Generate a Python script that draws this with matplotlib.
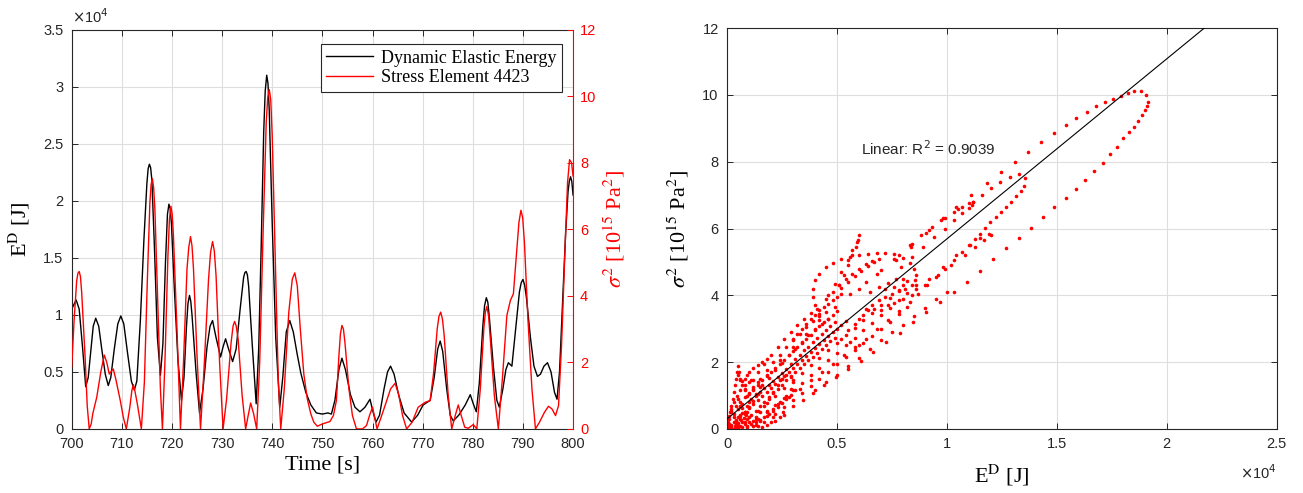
import numpy as np
import matplotlib.pyplot as plt
from matplotlib.lines import Line2D

# ---- time histories, 700-800 s ----
# dynamic elastic energy E^D: (time [s], E^D [1e4 J])
energy_points = [
    (700.0, 1.05), (700.9, 1.13), (701.5, 1.05), (702.2, 0.70), (702.8, 0.37),
    (703.3, 0.45), (703.8, 0.68), (704.3, 0.90), (704.8, 0.97), (705.4, 0.90),
    (706.0, 0.70), (706.7, 0.48), (707.3, 0.38), (707.8, 0.45), (708.5, 0.70),
    (709.2, 0.92), (709.8, 0.99), (710.4, 0.92), (711.1, 0.68), (711.9, 0.42),
    (712.5, 0.34), (713.0, 0.42), (713.7, 0.95), (714.4, 1.65), (715.0, 2.15),
    (715.25, 2.28), (715.5, 2.32), (715.75, 2.29), (716.0, 2.18), (716.5, 1.60),
    (717.1, 0.80), (717.7, 0.47), (718.2, 0.75), (718.7, 1.45), (719.1, 1.88),
    (719.4, 1.97), (719.65, 1.93), (719.9, 1.80), (720.4, 1.30), (721.2, 0.60),
    (721.9, 0.25), (722.4, 0.45), (722.9, 0.90), (723.2, 1.10), (723.5, 1.17),
    (723.75, 1.12), (724.0, 1.00), (724.8, 0.50), (725.5, 0.14), (726.2, 0.35),
    (727.0, 0.72), (727.6, 0.90), (728.1, 0.95), (728.8, 0.80), (729.7, 0.63),
    (730.2, 0.72), (730.7, 0.79), (731.3, 0.70), (732.1, 0.59), (732.8, 0.70),
    (733.6, 1.05), (734.3, 1.33), (734.55, 1.37), (734.8, 1.38), (735.05, 1.35),
    (735.3, 1.25), (736.0, 0.75), (736.8, 0.22), (737.3, 0.70), (737.8, 1.60),
    (738.3, 2.60), (738.6, 2.96), (738.9, 3.10), (739.15, 3.03), (739.4, 2.80),
    (740.0, 1.80), (740.7, 0.80), (741.5, 0.19), (742.1, 0.45), (742.8, 0.85),
    (743.5, 0.95), (744.2, 0.85), (745.0, 0.65), (745.7, 0.49), (746.7, 0.32),
    (747.7, 0.21), (748.8, 0.14), (750.0, 0.13), (751.1, 0.14), (751.8, 0.13),
    (752.5, 0.25), (753.3, 0.52), (753.9, 0.62), (754.6, 0.52), (755.6, 0.30),
    (756.5, 0.19), (757.5, 0.15), (758.5, 0.19), (759.5, 0.26), (760.1, 0.15),
    (760.7, 0.06), (761.4, 0.12), (762.3, 0.35), (763.0, 0.50), (763.6, 0.55),
    (764.3, 0.48), (765.2, 0.30), (766.3, 0.14), (767.8, 0.06), (769.0, 0.12),
    (770.1, 0.21), (771.5, 0.25), (772.3, 0.45), (773.0, 0.70), (773.5, 0.77),
    (774.0, 0.68), (774.8, 0.35), (775.5, 0.12), (776.1, 0.07), (777.2, 0.12),
    (778.5, 0.21), (779.5, 0.30), (780.1, 0.22), (780.7, 0.15), (781.3, 0.40),
    (782.0, 0.90), (782.35, 1.08), (782.7, 1.15), (783.0, 1.11), (783.3, 0.98),
    (784.1, 0.55), (784.8, 0.25), (785.3, 0.19), (786.0, 0.35), (786.6, 0.52),
    (787.1, 0.58), (787.8, 0.55), (788.5, 0.85), (789.3, 1.20), (789.65, 1.28),
    (790.0, 1.31), (790.35, 1.26), (790.7, 1.15), (791.5, 0.80), (792.2, 0.55),
    (792.9, 0.46), (793.5, 0.48), (794.2, 0.55), (794.9, 0.58), (795.6, 0.50),
    (796.3, 0.32), (796.8, 0.26), (797.3, 0.50), (797.9, 1.10), (798.5, 1.70),
    (799.0, 2.08), (799.25, 2.17), (799.5, 2.21), (799.75, 2.17), (800.0, 2.05),
]

# squared stress of element 4423: (time [s], sigma^2 [1e15 Pa^2])
stress_points = [
    (700.0, 1.85), (700.5, 3.30), (701.0, 4.45), (701.25, 4.68), (701.5, 4.73),
    (701.75, 4.58), (702.0, 4.10), (702.7, 2.10), (703.1, 0.70), (703.5, 0.00),
    (703.9, 0.15), (704.2, 0.45), (705.0, 0.95), (705.8, 1.70), (706.5, 2.22),
    (707.0, 2.00), (707.5, 1.65), (708.0, 1.75), (708.3, 1.80), (708.8, 1.50),
    (709.7, 0.85), (710.3, 0.35), (710.9, 0.00), (711.6, 0.65), (712.0, 1.15),
    (712.3, 1.33), (712.6, 1.15), (713.1, 0.75), (713.9, 0.00), (714.5, 1.40),
    (715.1, 4.50), (715.6, 6.80), (715.85, 7.35), (716.1, 7.52), (716.35, 7.25),
    (716.6, 6.60), (717.2, 3.60), (717.7, 1.20), (718.1, 0.00), (718.6, 2.00),
    (719.2, 5.20), (719.5, 6.30), (719.8, 6.69), (720.05, 6.45), (720.3, 5.80),
    (721.0, 3.00), (721.7, 0.00), (722.3, 2.00), (723.0, 4.80), (723.35, 5.45),
    (723.7, 5.78), (724.0, 5.50), (724.3, 4.80), (725.0, 2.20), (725.7, 0.00),
    (726.4, 1.80), (727.3, 4.50), (727.7, 5.30), (728.1, 5.63), (728.45, 5.35),
    (728.8, 4.60), (729.5, 2.00), (730.2, 0.00), (730.9, 0.90), (731.8, 2.60),
    (732.2, 3.10), (732.5, 3.23), (732.8, 3.10), (733.2, 2.70), (734.0, 1.00),
    (734.7, 0.00), (735.2, 0.40), (735.7, 0.78), (736.3, 0.45), (736.9, 0.00),
    (737.5, 2.00), (738.2, 6.00), (738.8, 9.20), (739.1, 9.95), (739.4, 10.20),
    (739.7, 9.90), (740.0, 8.80), (740.7, 4.50), (741.2, 1.50), (741.7, 0.00),
    (742.4, 1.20), (743.3, 3.50), (744.0, 4.50), (744.5, 4.69), (745.0, 4.30),
    (745.6, 3.00), (746.3, 1.65), (747.0, 0.90), (747.7, 0.45), (748.3, 0.20),
    (749.0, 0.08), (750.0, 0.15), (751.5, 0.22), (752.2, 0.40), (752.8, 0.85),
    (753.3, 2.20), (753.6, 2.85), (753.9, 3.11), (754.2, 3.00), (754.5, 2.60),
    (755.3, 1.20), (756.0, 0.40), (756.8, 0.00), (758.0, 0.00), (758.8, 0.10),
    (759.4, 0.40), (760.0, 0.65), (760.5, 0.30), (760.9, 0.00), (761.6, 0.30),
    (762.5, 0.70), (763.6, 1.20), (764.5, 1.37), (765.2, 1.05), (766.0, 0.40),
    (766.8, 0.00), (767.9, 0.20), (769.1, 0.65), (770.5, 0.80), (771.5, 0.85),
    (772.2, 1.70), (772.9, 3.00), (773.25, 3.38), (773.6, 3.51), (773.95, 3.30),
    (774.3, 2.80), (775.1, 1.00), (775.8, 0.00), (776.5, 0.40), (777.1, 0.72),
    (777.8, 0.35), (778.4, 0.05), (779.1, 0.02), (780.1, 0.13), (780.8, 0.00),
    (781.5, 1.20), (782.2, 3.00), (782.5, 3.50), (782.8, 3.68), (783.15, 3.40),
    (783.5, 2.70), (784.3, 1.00), (785.1, 0.00), (785.9, 1.50), (786.8, 3.41),
    (787.5, 3.86), (788.1, 4.06), (788.8, 5.40), (789.2, 6.20), (789.6, 6.57),
    (789.95, 6.35), (790.3, 5.60), (791.0, 3.30), (791.8, 1.20), (792.5, 0.00),
    (793.3, 0.20), (794.3, 0.50), (795.1, 0.68), (795.8, 0.60), (796.5, 0.40),
    (797.1, 0.70), (797.7, 2.50), (798.3, 5.00), (798.9, 7.40), (799.3, 8.09),
    (799.7, 8.00), (800.0, 7.60),
]

# ---- sigma^2 against E^D, traced loop by loop: (E^D [1e4 J], sigma^2 [1e15 Pa^2]) ----
outer_loop = [
    (0.03, 0.35), (0.07, 0.75), (0.12, 1.15), (0.18, 1.60), (0.24, 2.05),
    (0.30, 2.45), (0.36, 2.85), (0.42, 3.25), (0.49, 3.65), (0.56, 4.05),
    (0.63, 4.40), (0.70, 4.75), (0.770, 5.06), (0.838, 5.46), (0.903, 5.86),
    (0.975, 6.26), (1.043, 6.64), (1.111, 7.01), (1.182, 7.36), (1.247, 7.68),
    (1.311, 8.00), (1.371, 8.30), (1.429, 8.59), (1.486, 8.85), (1.540, 9.09),
    (1.588, 9.31), (1.636, 9.50), (1.679, 9.66), (1.720, 9.80), (1.755, 9.89),
    (1.790, 9.98), (1.823, 10.07), (1.853, 10.12), (1.884, 10.12), (1.905, 10.00),
    (1.915, 9.80), (1.909, 9.67), (1.900, 9.55), (1.888, 9.40), (1.871, 9.23),
    (1.853, 9.05), (1.830, 8.88), (1.803, 8.70), (1.775, 8.45), (1.743, 8.23),
    (1.709, 7.97), (1.670, 7.72), (1.627, 7.46), (1.585, 7.19), (1.540, 6.92),
    (1.488, 6.64), (1.437, 6.34), (1.383, 6.03), (1.327, 5.72), (1.270, 5.41),
    (1.209, 5.08), (1.152, 4.74), (1.091, 4.41), (1.030, 4.11), (0.970, 3.79),
    (0.906, 3.49), (0.846, 3.19), (0.785, 2.88), (0.724, 2.60), (0.664, 2.31),
    (0.607, 2.04), (0.550, 1.79), (0.494, 1.55), (0.440, 1.30), (0.392, 1.09),
    (0.345, 0.88), (0.300, 0.68), (0.255, 0.50), (0.210, 0.35), (0.170, 0.22),
    (0.130, 0.12), (0.090, 0.05), (0.050, 0.01),
]
loop_7p5 = [
    (0.60, 4.20), (0.68, 4.65), (0.76, 5.10), (0.84, 5.55), (0.92, 5.95),
    (0.99, 6.30), (1.05, 6.58), (1.12, 6.78), (1.16, 7.00), (1.20, 7.20),
    (1.24, 7.38), (1.285, 7.55), (1.33, 7.63), (1.357, 7.50), (1.349, 7.26),
    (1.335, 7.11), (1.315, 6.96), (1.292, 6.80), (1.270, 6.64), (1.247, 6.49),
    (1.224, 6.34), (1.197, 6.18), (1.171, 6.01), (1.149, 5.84), (1.126, 5.68),
    (1.103, 5.52), (1.07, 5.30), (1.03, 5.05), (0.99, 4.80), (0.95, 4.55),
    (0.91, 4.30), (0.87, 4.05), (0.83, 3.80), (0.78, 3.52), (0.73, 3.25),
    (0.68, 2.98), (0.63, 2.70), (0.58, 2.45), (0.53, 2.20), (0.48, 1.95),
    (0.43, 1.70), (0.38, 1.45), (0.33, 1.20), (0.28, 0.97), (0.23, 0.75),
    (0.18, 0.55), (0.13, 0.37), (0.08, 0.20),
]
loop_6p8 = [
    (0.78, 5.20), (0.83, 5.50), (0.88, 5.80), (0.93, 6.05), (0.98, 6.30),
    (1.03, 6.50), (1.07, 6.65), (1.10, 6.75), (1.12, 6.80), (1.115, 6.70),
    (1.10, 6.60), (1.07, 6.45), (1.03, 6.25), (0.99, 6.00), (0.94, 5.75),
    (0.89, 5.45), (0.84, 5.15), (0.79, 4.85),
]
loop_5p8 = [
    (0.80, 3.90), (0.86, 4.20), (0.92, 4.50), (0.98, 4.85), (1.04, 5.20),
    (1.10, 5.50), (1.15, 5.72), (1.19, 5.85), (1.20, 5.80), (1.17, 5.65),
    (1.13, 5.45), (1.08, 5.20), (1.02, 4.90), (0.96, 4.60), (0.90, 4.30),
    (0.84, 4.00),
]
balloon = [
    (0.42, 3.45), (0.40, 3.70), (0.39, 3.95), (0.39, 4.20), (0.40, 4.45),
    (0.42, 4.65), (0.45, 4.85), (0.48, 4.98), (0.52, 5.08), (0.56, 5.15),
    (0.60, 5.20), (0.64, 5.25), (0.68, 5.27), (0.72, 5.28), (0.76, 5.24),
    (0.80, 5.12), (0.83, 4.98), (0.85, 4.80), (0.86, 4.60), (0.855, 4.45),
    (0.84, 4.32), (0.81, 4.20), (0.78, 4.12), (0.75, 4.05), (0.72, 3.95),
    (0.69, 3.85), (0.66, 3.72), (0.63, 3.60),
]
arrow_5p1 = [
    (0.45, 3.90), (0.48, 4.10), (0.51, 4.30), (0.54, 4.50), (0.57, 4.65),
    (0.60, 4.80), (0.63, 4.93), (0.66, 5.03), (0.69, 5.10), (0.67, 5.00),
    (0.64, 4.88), (0.61, 4.73), (0.58, 4.57), (0.55, 4.40), (0.52, 4.22),
    (0.65, 4.10), (0.69, 4.25), (0.73, 4.38), (0.77, 4.48), (0.80, 4.50),
    (0.82, 4.42), (0.80, 4.32), (0.76, 4.26), (0.72, 4.20),
]
spike_5p8 = [
    (0.46, 4.00), (0.49, 4.35), (0.52, 4.70), (0.55, 5.05), (0.57, 5.35),
    (0.59, 5.60), (0.60, 5.80), (0.595, 5.65), (0.585, 5.45), (0.57, 5.20),
    (0.55, 4.90), (0.53, 4.60), (0.51, 4.30),
]
bands_low = [
    (0.10, 0.35), (0.14, 0.55), (0.18, 0.78), (0.22, 1.00), (0.26, 1.22),
    (0.30, 1.45), (0.34, 1.68), (0.38, 1.90), (0.42, 2.12), (0.46, 2.35),
    (0.50, 2.58), (0.54, 2.80), (0.58, 3.02), (0.62, 3.25), (0.66, 3.48),
    (0.70, 3.70), (0.74, 3.92), (0.78, 4.15),
    (0.14, 0.30), (0.18, 0.50), (0.22, 0.72), (0.26, 0.93), (0.30, 1.15),
    (0.34, 1.37), (0.38, 1.60), (0.42, 1.82), (0.46, 2.05), (0.50, 2.27),
    (0.54, 2.50), (0.58, 2.72), (0.62, 2.95), (0.66, 3.17), (0.70, 3.40),
    (0.74, 3.62), (0.78, 3.85), (0.82, 4.07), (0.86, 4.30),
    (0.22, 0.45), (0.26, 0.65), (0.30, 0.86), (0.34, 1.07), (0.38, 1.28),
    (0.42, 1.50), (0.46, 1.71), (0.50, 1.93), (0.54, 2.14), (0.58, 2.36),
    (0.62, 2.57), (0.66, 2.78), (0.70, 3.00), (0.74, 3.21), (0.78, 3.43),
    (0.82, 3.64),
    (0.40, 1.15), (0.45, 1.40), (0.50, 1.62), (0.55, 1.88), (0.60, 2.12),
    (0.65, 2.38), (0.70, 2.65), (0.75, 2.90), (0.80, 3.12), (0.85, 3.38),
    (0.90, 3.62), (0.95, 3.88), (1.00, 4.10),
]
bands_high = [
    (0.02, 0.50), (0.05, 0.90), (0.08, 1.20), (0.11, 1.45), (0.14, 1.70),
    (0.17, 1.95), (0.20, 2.20), (0.23, 2.45), (0.26, 2.68), (0.29, 2.90),
    (0.32, 3.10), (0.35, 3.30), (0.38, 3.48), (0.41, 3.60),
    (0.06, 0.70), (0.09, 1.00), (0.12, 1.25), (0.15, 1.50), (0.18, 1.75),
    (0.21, 2.00), (0.24, 2.22), (0.27, 2.45), (0.30, 2.65), (0.33, 2.85),
    (0.36, 3.05), (0.39, 3.22), (0.42, 3.38), (0.45, 3.50),
    (0.10, 0.80), (0.13, 1.05), (0.16, 1.30), (0.19, 1.52), (0.22, 1.75),
    (0.25, 1.97), (0.28, 2.20), (0.31, 2.40), (0.34, 2.60), (0.37, 2.80),
    (0.40, 2.98), (0.43, 3.15), (0.46, 3.30),
    (0.30, 2.70), (0.32, 2.85), (0.34, 3.00), (0.36, 3.15), (0.38, 3.30),
    (0.40, 3.42), (0.42, 3.55), (0.44, 3.65), (0.46, 3.75), (0.48, 3.85),
    (0.50, 3.95), (0.52, 4.05),
]
# dense band hugging the fit line
core_band = [
    (0.02, 0.55), (0.04, 0.68), (0.06, 0.82), (0.08, 0.95), (0.10, 1.08),
    (0.12, 1.20), (0.14, 1.32), (0.16, 1.45), (0.18, 1.58), (0.20, 1.70),
    (0.22, 1.82), (0.24, 1.95), (0.26, 2.07), (0.28, 2.20), (0.30, 2.32),
    (0.32, 2.45), (0.34, 2.58), (0.36, 2.70), (0.38, 2.82), (0.40, 2.95),
    (0.42, 3.07), (0.44, 3.20), (0.46, 3.30), (0.48, 3.42), (0.50, 3.52),
    (0.04, 0.25), (0.06, 0.38), (0.08, 0.50), (0.10, 0.62), (0.12, 0.74),
    (0.14, 0.86), (0.16, 0.98), (0.18, 1.10), (0.20, 1.22), (0.22, 1.34),
    (0.24, 1.46), (0.26, 1.58), (0.28, 1.70), (0.30, 1.82), (0.32, 1.94),
    (0.34, 2.06), (0.36, 2.18), (0.38, 2.30), (0.40, 2.42), (0.42, 2.54),
    (0.44, 2.66), (0.46, 2.78), (0.48, 2.90), (0.50, 3.00), (0.52, 3.12),
    (0.54, 3.24),
    (0.01, 0.15), (0.03, 0.45), (0.05, 0.60), (0.07, 0.62), (0.09, 0.70),
    (0.11, 0.90), (0.13, 1.00), (0.15, 1.12), (0.17, 1.22), (0.19, 1.30),
    (0.21, 1.42), (0.23, 1.55), (0.25, 1.68), (0.27, 1.80), (0.29, 1.95),
    (0.31, 2.08), (0.33, 2.20), (0.35, 2.35), (0.37, 2.45), (0.39, 2.60),
    (0.41, 2.72), (0.43, 2.85), (0.45, 2.95), (0.47, 3.08), (0.49, 3.20),
    (0.05, 0.10), (0.07, 0.20), (0.09, 0.30), (0.11, 0.42), (0.13, 0.55),
    (0.15, 0.68), (0.17, 0.80), (0.19, 0.95), (0.21, 1.08), (0.23, 1.20),
    (0.25, 1.32), (0.27, 1.45), (0.29, 1.58), (0.31, 1.70), (0.33, 1.82),
    (0.35, 1.95), (0.37, 2.05), (0.39, 2.15), (0.41, 2.28), (0.43, 2.40),
    (0.45, 2.52), (0.47, 2.62), (0.49, 2.72),
    (0.55, 2.95), (0.58, 3.15), (0.60, 3.30), (0.62, 3.40), (0.64, 3.55),
    (0.67, 3.60), (0.70, 3.55), (0.73, 3.70), (0.76, 3.78), (0.52, 2.70),
    (0.56, 2.60), (0.60, 2.50),
]
origin_loops = [
    (0.005, 0.10), (0.010, 0.30), (0.015, 0.50), (0.020, 0.70), (0.025, 0.90),
    (0.030, 1.10), (0.035, 1.30), (0.040, 1.50), (0.045, 1.70), (0.050, 1.87),
    (0.055, 1.70), (0.060, 1.50), (0.070, 1.30), (0.080, 1.15), (0.100, 1.05),
    (0.000, 0.00), (0.005, 0.20), (0.010, 0.40), (0.020, 0.60), (0.030, 0.80),
    (0.045, 1.00), (0.060, 1.15), (0.080, 1.30), (0.100, 1.40), (0.120, 1.45),
    (0.140, 1.40), (0.150, 1.25), (0.140, 1.05), (0.120, 0.85), (0.100, 0.65),
    (0.080, 0.45), (0.060, 0.30), (0.040, 0.15), (0.020, 0.05),
    (0.120, 0.10), (0.150, 0.25), (0.180, 0.40), (0.210, 0.60), (0.240, 0.80),
    (0.270, 1.00), (0.290, 1.20), (0.300, 1.40), (0.290, 1.55), (0.270, 1.60),
    (0.250, 1.50), (0.230, 1.30), (0.210, 1.10), (0.190, 0.90), (0.170, 0.70),
    (0.150, 0.50), (0.130, 0.30),
    (0.010, 0.05), (0.020, 0.12), (0.030, 0.20), (0.040, 0.28), (0.050, 0.35),
    (0.060, 0.42), (0.070, 0.48), (0.080, 0.52), (0.090, 0.50), (0.085, 0.42),
    (0.075, 0.34), (0.065, 0.26), (0.050, 0.18), (0.035, 0.10), (0.020, 0.04),
    (0.030, 0.00), (0.050, 0.02), (0.070, 0.05), (0.090, 0.09), (0.110, 0.14),
    (0.130, 0.20), (0.150, 0.27), (0.170, 0.35), (0.190, 0.44), (0.210, 0.54),
    (0.230, 0.65), (0.250, 0.77), (0.270, 0.90), (0.290, 1.03), (0.310, 1.16),
    (0.050, 1.60), (0.060, 1.45), (0.070, 1.42), (0.080, 1.50), (0.090, 1.60),
    (0.100, 1.70), (0.120, 1.82), (0.140, 1.92), (0.160, 2.00), (0.180, 2.08),
    (0.000, 0.05), (0.010, 0.00), (0.020, 0.02), (0.040, 0.05), (0.060, 0.10),
    (0.080, 0.15), (0.100, 0.22), (0.120, 0.25), (0.140, 0.10), (0.160, 0.05),
    (0.180, 0.12), (0.200, 0.20), (0.220, 0.25), (0.240, 0.35), (0.260, 0.42),
]
scatter_sets = [outer_loop, loop_7p5, loop_6p8, loop_5p8, balloon, arrow_5p1,
                spike_5p8, bands_low, bands_high, core_band, origin_loops]

# linear fit: sigma^2 = fit_intercept + fit_slope * E^D (E^D in 1e4 J)
fit_slope = 5.39
fit_intercept = 0.30
r_squared = 0.9039

SERIF = 'Liberation Serif'
SANS = 'Liberation Sans'
AX_COLOR = '#262626'
GRID_COLOR = '#dedede'
RED = '#ff0000'


def style_axes(ax):
    ax.tick_params(direction='in', length=4, width=0.7, labelsize=10.5,
                   colors=AX_COLOR, labelcolor=AX_COLOR, pad=6)
    for lab in ax.get_xticklabels() + ax.get_yticklabels():
        lab.set_fontfamily(SANS)
    for sp in ax.spines.values():
        sp.set_color(AX_COLOR)
        sp.set_linewidth(0.8)
    ax.grid(True, color=GRID_COLOR, linewidth=0.8)
    ax.set_axisbelow(True)


fmt = plt.FuncFormatter(lambda v, _: f'{v:g}')

fig = plt.figure(figsize=(13.03, 4.93), dpi=100)

# ---- left: time histories ----
ax1 = fig.add_axes([0.055, 0.130, 0.3848, 0.810])
t_e, energy_e4 = zip(*energy_points)
ax1.plot(t_e, energy_e4, color='black', linewidth=1.0)
ax1.set_xlim(700, 800)
ax1.set_ylim(0, 3.5)
ax1.set_xticks(np.arange(700, 801, 10))
ax1.set_yticks(np.arange(0, 3.51, 0.5))
ax1.yaxis.set_major_formatter(fmt)
ax1.tick_params(top=True)
style_axes(ax1)
ax1.spines['right'].set_visible(False)
ax1.set_xlabel('Time [s]', fontfamily=SERIF, fontsize=16, labelpad=3)
ax1.set_ylabel(r'E$^{\mathrm{D}}$ [J]', fontfamily=SERIF, fontsize=16,
               math_fontfamily='stix', labelpad=8)
ax1.text(0.0, 1.008, r'$\times$10$^4$', transform=ax1.transAxes,
         fontfamily=SANS, fontsize=10.5, color=AX_COLOR,
         math_fontfamily='dejavusans', ha='left', va='bottom')

ax1r = ax1.twinx()
t_s, stress_sq = zip(*stress_points)
ax1r.plot(t_s, stress_sq, color=RED, linewidth=1.0)
ax1r.set_ylim(0, 12)
ax1r.set_yticks(np.arange(0, 12.1, 2))
ax1r.tick_params(direction='in', length=4, width=0.7, labelsize=10.5,
                 colors=RED, pad=5)
for lab in ax1r.get_yticklabels():
    lab.set_fontfamily(SANS)
for name, sp in ax1r.spines.items():
    sp.set_visible(name == 'right')
ax1r.spines['right'].set_color(RED)
ax1r.spines['right'].set_linewidth(0.8)
ax1r.set_ylabel(r'$\sigma^2$ [10$^{15}$ Pa$^2$]', fontfamily=SERIF, fontsize=16,
                math_fontfamily='stix', color=RED, labelpad=4)

handles = [Line2D([], [], color='black', linewidth=1.0),
           Line2D([], [], color=RED, linewidth=1.0)]
leg = ax1r.legend(handles, ['Dynamic Elastic Energy', 'Stress Element 4423'],
                  loc='upper right', bbox_to_anchor=(0.977, 0.963),
                  borderaxespad=0, fancybox=False, framealpha=1,
                  edgecolor=AX_COLOR, handlelength=2.6, borderpad=0.3,
                  labelspacing=0.15, handletextpad=0.4,
                  prop={'family': SERIF, 'size': 13})
leg.get_frame().set_linewidth(0.8)

# ---- right: sigma^2 against E^D ----
ax2 = fig.add_axes([0.558, 0.130, 0.4218, 0.813])
for pts in scatter_sets:
    e, s = zip(*pts)
    ax2.plot(e, s, linestyle='none', marker='o', markersize=2.6,
             markeredgewidth=0, color=RED)
e_line = np.array([0.0, 2.5])
ax2.plot(e_line, fit_intercept + fit_slope * e_line, color='black',
         linewidth=0.8, zorder=3)
ax2.set_xlim(0, 2.5)
ax2.set_ylim(0, 12)
ax2.set_xticks(np.arange(0, 2.51, 0.5))
ax2.set_yticks(np.arange(0, 12.1, 2))
ax2.xaxis.set_major_formatter(fmt)
ax2.tick_params(top=True, right=True)
style_axes(ax2)
ax2.text(0.61, 8.4, f'Linear: R$^2$ = {r_squared}', fontfamily=SANS,
         fontsize=11, color=AX_COLOR, math_fontfamily='dejavusans',
         va='center', ha='left')
ax2.set_xlabel(r'E$^{\mathrm{D}}$ [J]', fontfamily=SERIF, fontsize=16,
               math_fontfamily='stix', labelpad=8)
ax2.set_ylabel(r'$\sigma^2$ [10$^{15}$ Pa$^2$]', fontfamily=SERIF, fontsize=16,
               math_fontfamily='stix', labelpad=8)
ax2.text(1.0, -0.085, r'$\times$10$^4$', transform=ax2.transAxes,
         fontfamily=SANS, fontsize=10.5, color=AX_COLOR,
         math_fontfamily='dejavusans', ha='right', va='top')

fig.savefig('out.png', dpi=100)
